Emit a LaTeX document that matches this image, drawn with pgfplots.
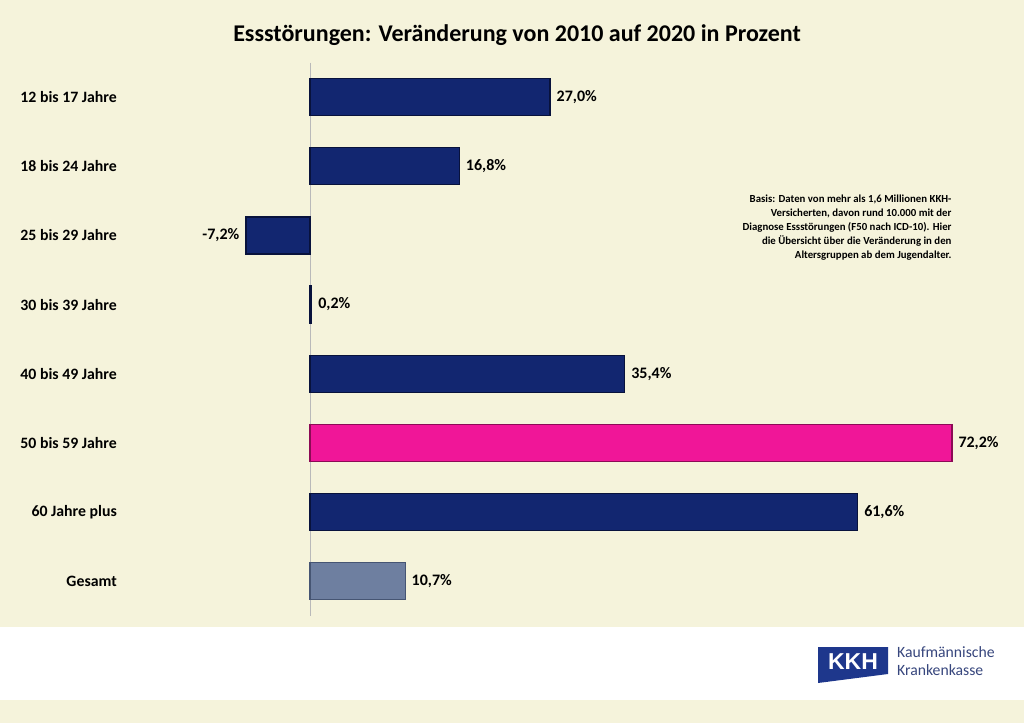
\documentclass[border=0pt]{standalone}
\usepackage{pgfplots}
\pgfplotsset{compat=1.18}
\usepackage{fontspec}
\setmainfont{Carlito}
\newfontfamily\logofont{Liberation Sans}
\definecolor{bgcol}{RGB}{245,243,219}
\definecolor{navy}{RGB}{18,38,112}
\definecolor{navylight}{RGB}{70,92,160}
\definecolor{navydark}{RGB}{8,18,60}
\definecolor{pinkbar}{RGB}{240,22,152}
\definecolor{pinklight}{RGB}{250,110,195}
\definecolor{pinkdark}{RGB}{140,10,85}
\definecolor{greybar}{RGB}{110,127,160}
\definecolor{greylight}{RGB}{160,175,205}
\definecolor{greydark}{RGB}{70,85,115}
\definecolor{kkhblue}{RGB}{30,55,140}
\definecolor{kkhtext}{RGB}{55,70,125}
\begin{document}
\begin{tikzpicture}[x=1pt,y=1pt]
\fill[bgcol] (0,0) rectangle (1024,723);
\fill[white] (0,23) rectangle (1024,96);
\node[font=\bfseries\fontsize{24}{28}\selectfont] at (517,688) {Essstörungen: Veränderung von 2010 auf 2020 in Prozent};
\begin{axis}[
  at={(221.1pt,107.5pt)}, anchor=south west,
  scale only axis, width=755.7pt, height=552.8pt,
  xmin=-10, xmax=75, ymin=-0.5, ymax=7.5,
  y dir=reverse,
  xbar, bar width=37pt, bar shift=0pt,
  axis line style={draw=none},
  xtick=\empty,
  extra x ticks={0}, extra x tick labels={},
  extra x tick style={grid=major, major grid style={draw=gray!55, line width=0.6pt}, major tick length=0pt},
  ytick={0,1,2,3,4,5,6,7},
  yticklabels={12 bis 17 Jahre,18 bis 24 Jahre,25 bis 29 Jahre,30 bis 39 Jahre,40 bis 49 Jahre,50 bis 59 Jahre,60 Jahre plus,Gesamt},
  major tick length=0pt,
  yticklabel style={font=\bfseries\fontsize{15.8}{18}\selectfont, anchor=east, inner sep=0pt, xshift=-104.1pt},
  /pgf/number format/assume math mode=true,
  point meta=x,
  clip=false,
]
\pgfplotsset{vals/.style={nodes near coords={\pgfmathprintnumber[fixed, fixed zerofill, precision=1, use comma]{\pgfplotspointmeta}\%},
  nodes near coords style={font=\bfseries\fontsize{16}{18}\selectfont, black, inner sep=6pt}}}
\addplot[fill=navy, draw=navydark, line width=1.2pt, vals] coordinates {(27.0,0) (16.8,1) (-7.2,2) (0.2,3) (35.4,4) (61.6,6)};
\addplot[fill=pinkbar, draw=pinkdark, line width=1.2pt, vals] coordinates {(72.2,5)};
\addplot[fill=greybar, draw=greydark, line width=1.2pt, vals] coordinates {(10.7,7)};
\end{axis}
\node[anchor=east, align=right, font=\bfseries\fontsize{10.8}{14}\selectfont] at (955,495) {Basis: Daten von mehr als 1,6 Millionen KKH-\\Versicherten, davon rund 10.000 mit der\\Diagnose Essstörungen (F50 nach ICD-10). Hier\\die Übersicht über die Veränderung in den\\Altersgruppen ab dem Jugendalter.};
\fill[kkhblue] (818,76) -- (888,76) -- (888,49) -- (818,40) -- cycle;
\node[text=white, font=\logofont\bfseries\fontsize{23}{26}\selectfont] at (853,61) {KKH};
\node[anchor=base west, inner sep=0pt, text=kkhtext, font=\fontsize{15.7}{18}\selectfont] at (897,66) {Kaufmännische};
\node[anchor=base west, inner sep=0pt, text=kkhtext, font=\fontsize{15.7}{18}\selectfont] at (897,48) {Krankenkasse};
\end{tikzpicture}
\end{document}
